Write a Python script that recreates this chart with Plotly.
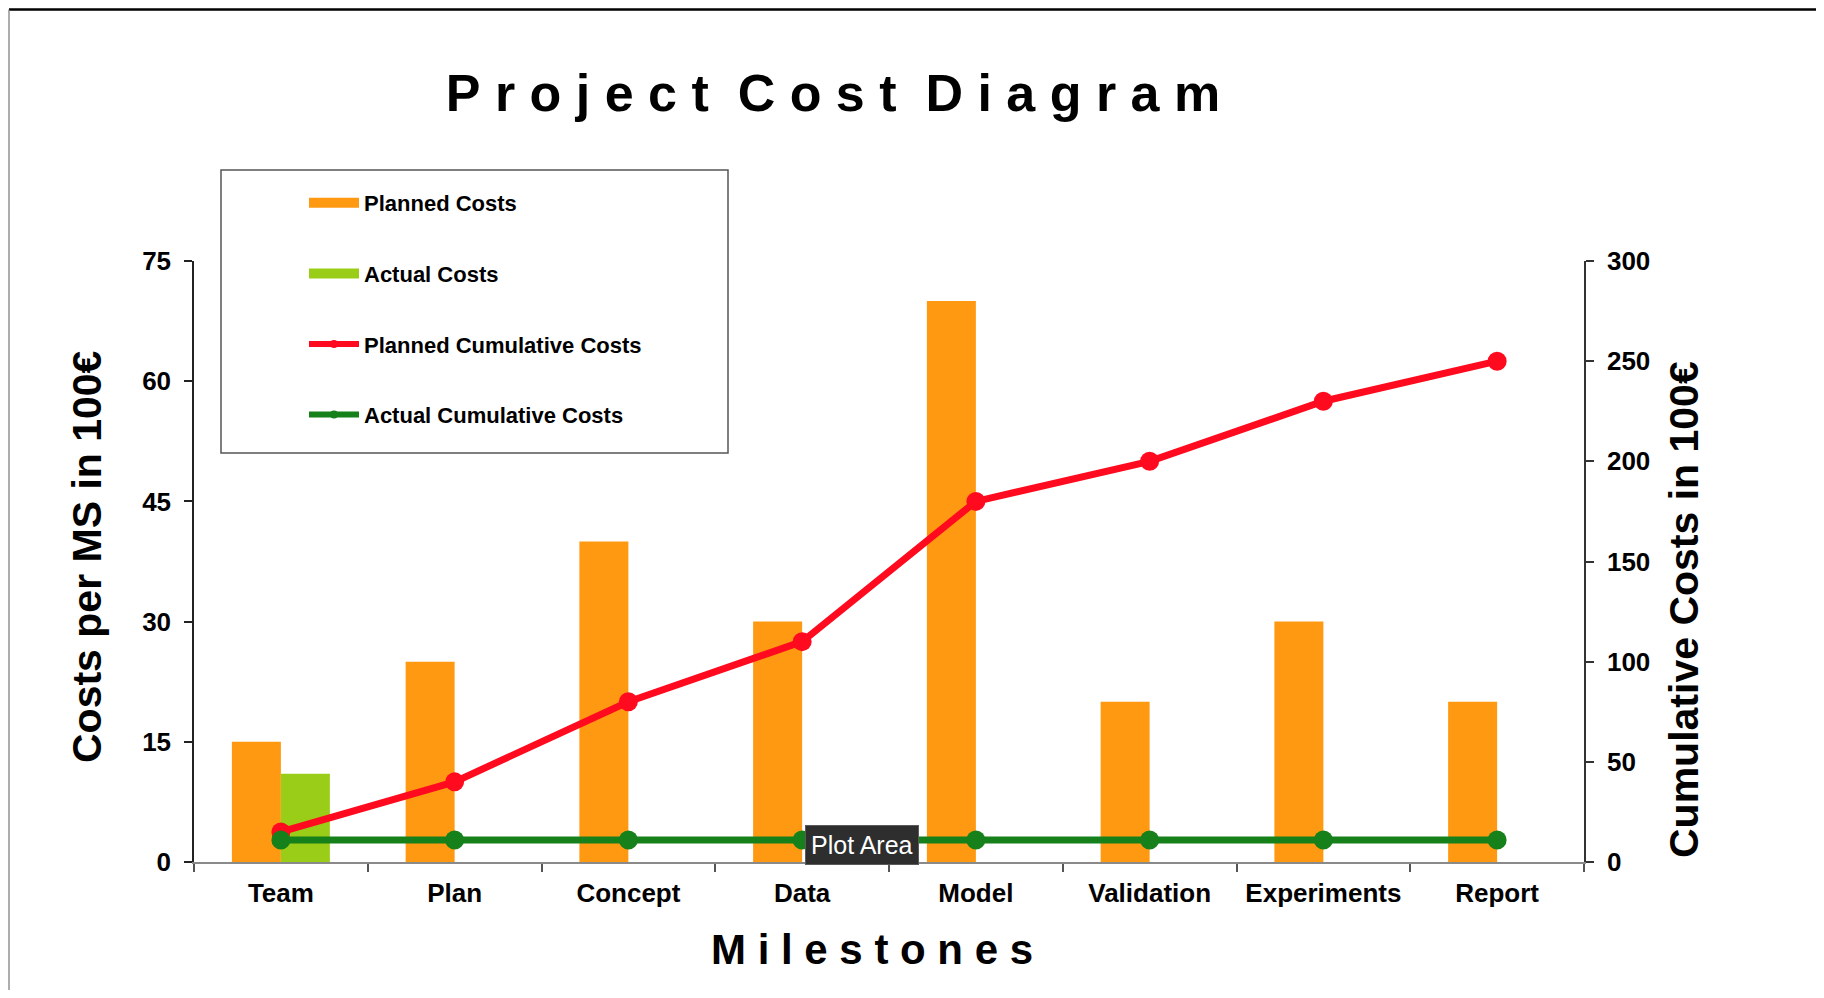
import plotly.graph_objects as go

# ---------------- data ----------------
milestones = ["Team", "Plan", "Concept", "Data", "Model", "Validation", "Experiments", "Report"]
planned_costs = [15, 25, 40, 30, 70, 20, 30, 20]
actual_costs = [11, None, None, None, None, None, None, None]
planned_cumulative = [15, 40, 80, 110, 180, 200, 230, 250]
actual_cumulative = [11, 11, 11, 11, 11, 11, 11, 11]
left_ticks = [0, 15, 30, 45, 60, 75]
right_ticks = [0, 50, 100, 150, 200, 250, 300]

title_text = "Project Cost Diagram"
x_title_text = "Milestones"
left_title_text = "Costs per MS in 100€"
right_title_text = "Cumulative Costs in 100€"

# ---------------- style ----------------
ORANGE = "#FF9912"
LIME = "#9ACD17"
RED = "#FF0A1E"
GREEN = "#16801A"
FONT = "Liberation Sans, Arial, Helvetica, sans-serif"

OFF = 8                      # page body margin
PAGE_W, PAGE_H = 1824, 998
W, H = PAGE_W - 2 * OFF, PAGE_H - 2 * OFF
# plot area in page pixels
L, R, T, B = 194, 1584, 261, 862


def px(x):
    return (x - L) / (R - L)


def py(y):
    return (B - y) / (B - T)


def spaced(text, letter_gap="\u00a0", word_gap="\u00a0\u00a0"):
    words = text.split(" ")
    return word_gap.join(letter_gap.join(w) for w in words)


fig = go.Figure()

# bars
fig.add_trace(go.Bar(x=milestones, y=planned_costs, name="Planned Costs",
                     marker=dict(color=ORANGE, line=dict(width=0)),
                     showlegend=False, yaxis="y"))
fig.add_trace(go.Bar(x=milestones, y=actual_costs, name="Actual Costs",
                     marker=dict(color=LIME, line=dict(width=0)),
                     showlegend=False, yaxis="y"))
# cumulative lines
fig.add_trace(go.Scatter(x=milestones, y=planned_cumulative, name="Planned Cumulative Costs",
                         mode="lines+markers", line=dict(color=RED, width=7),
                         marker=dict(color=RED, size=19), showlegend=False, yaxis="y2"))
fig.add_trace(go.Scatter(x=milestones, y=actual_cumulative, name="Actual Cumulative Costs",
                         mode="lines+markers", line=dict(color=GREEN, width=7),
                         marker=dict(color=GREEN, size=19), showlegend=False, yaxis="y2"))

# legend entries
legend_specs = [
    ("Planned Costs", ORANGE, "lines"),
    ("Actual Costs", LIME, "lines"),
    ("Planned Cumulative Costs", RED, "lines+markers"),
    ("Actual Cumulative Costs", GREEN, "lines+markers"),
]
for name, color, mode in legend_specs:
    is_bar = mode == "lines"
    fig.add_trace(go.Scatter(
        x=[None], y=[None], name=name, mode=mode, legendgroup=name,
        line=dict(color=color, width=10 if is_bar else 6),
        marker=dict(color=color, size=8), showlegend=True, hoverinfo="skip"))

tick_font = dict(family=FONT, size=26, color="#000", weight="bold")
n = len(milestones)
boundaries = [i - 0.5 for i in range(n + 1)]

fig.update_layout(
    width=W, height=H,
    margin=dict(l=L - OFF, r=W - (R - OFF), t=T - OFF, b=H - (B - OFF), pad=0),
    paper_bgcolor="white", plot_bgcolor="white",
    barmode="group", bargap=0.436, bargroupgap=0,
    title=dict(text=spaced(title_text), x=(833 - OFF) / W, xref="container", xanchor="center",
               y=1 - (93 - OFF) / H, yref="container", yanchor="middle",
               font=dict(family=FONT, size=52, color="#000", weight="bold")),
    xaxis=dict(type="category", categoryorder="array", categoryarray=milestones,
               range=[-0.5, n - 0.5],
               showline=True, linecolor="#8a8a8a", linewidth=2,
               ticks="outside", tickson="boundaries", ticklen=8, tickwidth=1.5, tickcolor="#555",
               ticklabelstandoff=7, tickfont=dict(family=FONT, size=26, color="#000", weight="bold"),
               showgrid=False, zeroline=False),
    xaxis2=dict(overlaying="x", anchor="y", side="bottom", range=[-0.5, n - 0.5],
                tickmode="array", tickvals=boundaries, ticks="inside", ticklen=8, tickwidth=1.5,
                tickcolor="#555", showticklabels=False, showline=False, showgrid=False, zeroline=False),
    yaxis=dict(range=[0, 75], tickmode="array", tickvals=left_ticks,
               showline=True, linecolor="#222", linewidth=1.5,
               ticks="outside", ticklen=8, tickwidth=1.5, tickcolor="#222",
               ticklabelstandoff=8, tickfont=tick_font,
               showgrid=False, zeroline=False),
    yaxis2=dict(range=[0, 300], tickmode="array", tickvals=right_ticks, overlaying="y",
                side="right", anchor="x",
                showline=True, linecolor="#333", linewidth=1.5,
                ticks="outside", ticklen=8, tickwidth=1.5, tickcolor="#333",
                ticklabelstandoff=8, tickfont=tick_font,
                showgrid=False, zeroline=False),
    yaxis3=dict(range=[0, 75], tickmode="array", tickvals=left_ticks, overlaying="y",
                side="left", anchor="x", ticks="inside", ticklen=8, tickwidth=1.5, tickcolor="#222",
                showticklabels=False, showline=False, showgrid=False, zeroline=False),
    yaxis4=dict(range=[0, 300], tickmode="array", tickvals=right_ticks, overlaying="y",
                side="right", anchor="x", ticks="inside", ticklen=8, tickwidth=1.5, tickcolor="#333",
                showticklabels=False, showline=False, showgrid=False, zeroline=False),
    legend=dict(x=px(304), y=py(182), xanchor="left", yanchor="top",
                bgcolor="rgba(0,0,0,0)", borderwidth=0,
                itemwidth=50, tracegroupgap=39, traceorder="grouped",
                font=dict(family=FONT, size=22, color="#000", weight="bold")),
    showlegend=True,
    hovermode=False,
)

# axis titles and tooltip as annotations
fig.add_annotation(text=spaced(x_title_text), x=px(872), y=py(949), xref="paper", yref="paper",
                   showarrow=False, xanchor="center", yanchor="middle",
                   font=dict(family=FONT, size=42, color="#000", weight="bold"))
fig.add_annotation(text=left_title_text, x=px(87), y=py(557), xref="paper", yref="paper",
                   showarrow=False, textangle=-90, xanchor="center", yanchor="middle",
                   font=dict(family=FONT, size=41, color="#000", weight="bold"))
fig.add_annotation(text=right_title_text, x=px(1684), y=py(610), xref="paper", yref="paper",
                   showarrow=False, textangle=-90, xanchor="center", yanchor="middle",
                   font=dict(family=FONT, size=41, color="#000", weight="bold"))
fig.add_annotation(text="Plot Area", x=px(862), y=py(845), xref="paper", yref="paper",
                   showarrow=False, xanchor="center", yanchor="middle",
                   bgcolor="#2e2e2e", bordercolor="#5a5a5a", borderwidth=1, borderpad=5,
                   font=dict(family=FONT, size=25, color="#fff"))

# legend box and chart frame
fig.add_shape(type="rect", xref="paper", yref="paper",
              x0=px(221), x1=px(728), y0=py(453), y1=py(170),
              line=dict(color="#555", width=1.5), fillcolor="rgba(0,0,0,0)", layer="below")
fig.add_shape(type="line", xref="paper", yref="paper",
              x0=px(OFF + 1), x1=px(PAGE_W), y0=py(OFF + 1.5), y1=py(OFF + 1.5),
              line=dict(color="#000", width=2.5))
fig.add_shape(type="line", xref="paper", yref="paper",
              x0=px(OFF + 1), x1=px(OFF + 1), y0=py(OFF + 1.5), y1=py(PAGE_H),
              line=dict(color="#777", width=1.2))

fig.write_html("out.html")
